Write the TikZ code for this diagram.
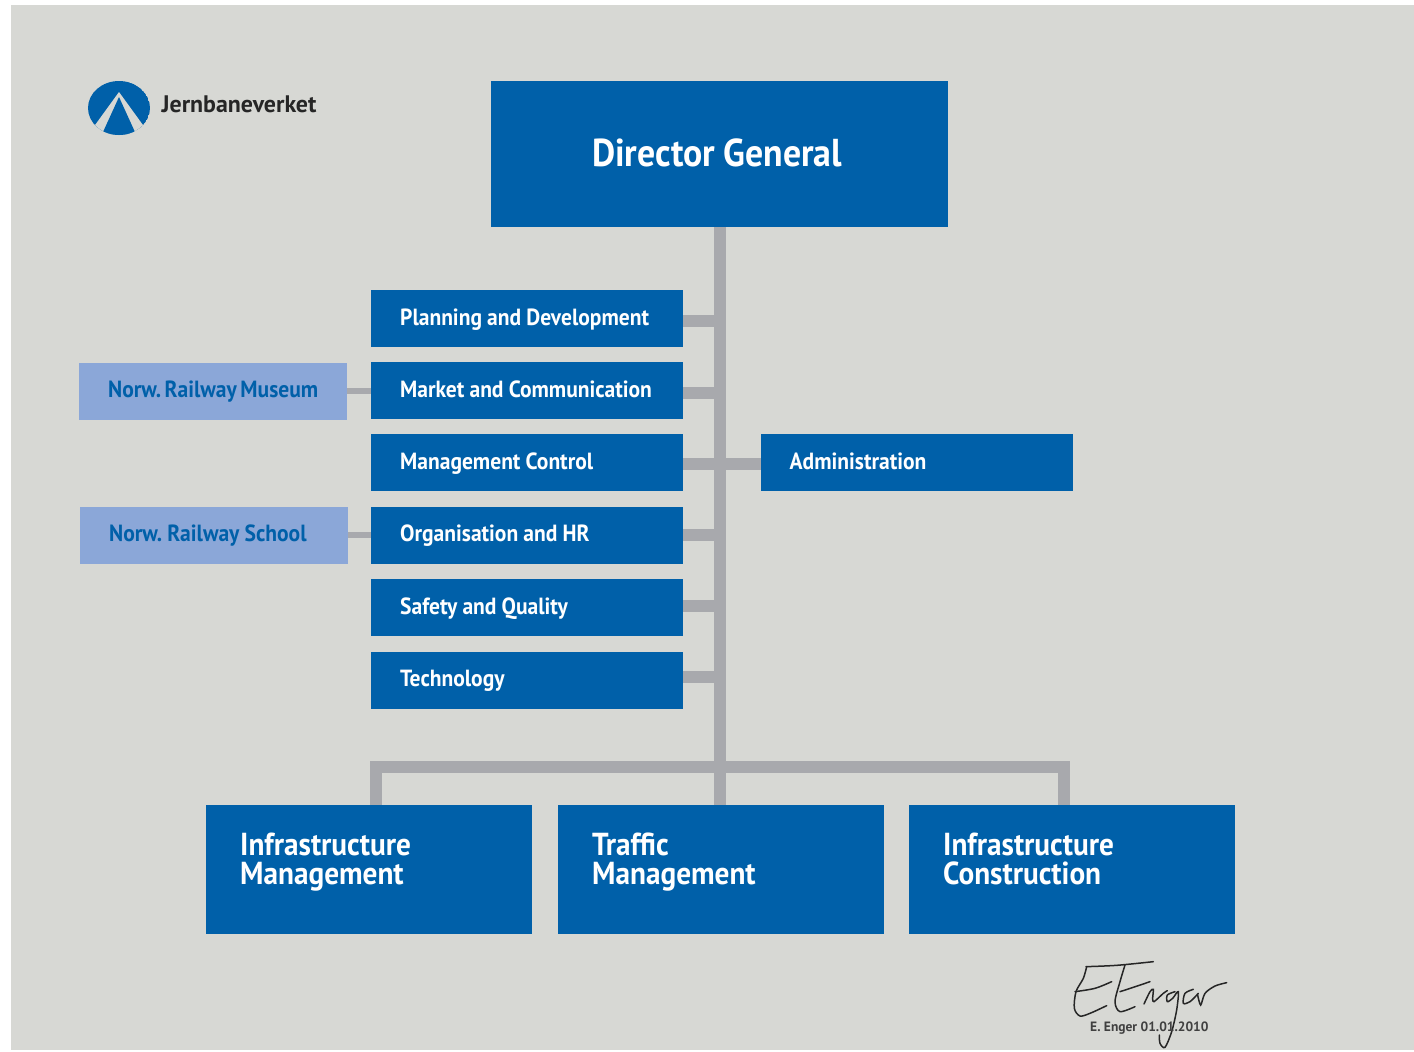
\documentclass[tikz,border=0pt]{standalone}
\usepackage{fontspec}
\setmainfont[FakeStretch=0.92,WordSpace=0.95]{PT Sans}
\newfontfamily\plainfont{PT Sans}
\definecolor{jbvblue}{HTML}{0060A9}
\definecolor{jbvlight}{HTML}{8BA7D8}
\definecolor{jbvback}{HTML}{D7D8D4}
\definecolor{jbvline}{HTML}{A8A9AD}
\tikzset{
	unit/.style = {fill = jbvblue, text = white, anchor = north west, inner ysep = 0pt, align = flush left},
	deptbox/.style = {unit, inner xsep = 29pt, text width = 254pt, minimum height = 57pt, text height = 18.5pt, text depth = 5pt, font = \fontsize{23.4}{26}\selectfont\bfseries},
	sidebox/.style = {deptbox, fill = jbvlight, text = jbvblue, text width = 210pt},
	linebox/.style = {unit, inner xsep = 34pt, text width = 258pt, minimum height = 129pt, text depth = 50pt, font = \fontsize{31.8}{28.5}\selectfont\bfseries},
	topbox/.style = {fill = jbvblue, text = white, anchor = north west, inner sep = 0pt, minimum width = 457pt, minimum height = 146pt, text depth = 4pt, font = \fontsize{38.9}{40}\selectfont\bfseries},
	conn/.style = {draw = jbvline, line width = 12pt},
	thinconn/.style = {draw = jbvline, line width = 6pt},
	sign/.style = {draw = black!85, line width = 1.5pt, smooth, line cap = round}
}
\begin{document}
\begin{tikzpicture}[x = 1pt, y = -1pt]
	\useasboundingbox (0,0) rectangle (1414,1052);
	\fill[white] (0,0) rectangle (1414,1052);
	\fill[jbvback] (11,5) rectangle (1414,1050);
	% logo
	\begin{scope}
		\clip (119,108) ellipse (31 and 27);
		\fill[jbvblue] (119,108) ellipse (31 and 27);
		\fill[jbvback] (119,92) -- (82,143) -- (156,143) -- cycle;
		\fill[jbvblue] (119,97) -- (98,143) -- (140,143) -- cycle;
	\end{scope}
	\node[anchor = west, inner sep = 0pt, text = black!85, font = \plainfont\fontsize{23.9}{24}\selectfont\bfseries] (brand) at (161.5,104) {Jernbaneverket};
	% boxes
	\node[topbox] (director) at (491,81) {Director General\hspace*{5pt}};
	\node[deptbox] (planning) at (371,290) {Planning~and~Development};
	\node[deptbox] (market) at (371,362) {Market~and~Communication};
	\node[deptbox] (control) at (371,434) {Management Control};
	\node[deptbox] (hr) at (371,506.5) {Organisation and HR};
	\node[deptbox] (safety) at (371,579) {Safety and Quality};
	\node[deptbox] (technology) at (371,651.5) {Technology};
	\node[deptbox] (admin) at (760.5,434) {Administration};
	\node[sidebox] (museum) at (79,362.5) {Norw.~Railway~Museum};
	\node[sidebox] (school) at (80,506.5) {Norw.~Railway~School};
	\node[linebox] (infra) at (206,805) {Infrastructure\\Management};
	\node[linebox] (traffic) at (558,805) {Traffic\\Management};
	\node[linebox] (construction) at (909,805) {Infrastructure\\Construction};
	% lines
	\coordinate (busleft) at (376,767);
	\coordinate (busright) at (1064,767);
	\draw[conn] (director.south) -- (director.south |- traffic.north);
	\foreach \d/\y in {planning/321,market/392.7,control/463.7,hr/535,safety/606,technology/677.3}
		\draw[conn] (\d.east |- 0,\y) -- (director.south |- 0,\y);
	\draw[conn] (control.east |- 0,463.7) -- (admin.west |- 0,463.7);
	\draw[thinconn] (museum.east) -- (museum.east -| market.west);
	\draw[thinconn] (school.east) -- (school.east -| hr.west);
	\draw[conn] (busleft |- infra.north) -- (busleft) -- (busright) -- (busright |- construction.north);
	% signature
	\begin{scope}[shift = {(1050,950)}, x = .3333pt, y = -.3333pt]
		\draw[sign] plot coordinates {(108,50) (200,46) (310,35)};
		\draw[sign] plot coordinates {(110,50) (100,85) (78,125) (73,175) (90,198) (120,190) (170,167)};
		\draw[sign] plot coordinates {(75,125) (135,115) (185,95)};
		\draw[sign] plot coordinates {(225,45) (210,95) (195,155) (210,185) (255,170)};
		\draw[sign] plot coordinates {(210,125) (250,112) (300,95)};
	\end{scope}
	\begin{scope}[shift = {(1130,960)}, x = .3333pt, y = -.3333pt]
		\draw[sign] plot coordinates {(42,132) (60,95) (70,88) (68,115) (72,125) (100,100) (112,92)};
		\draw[sign] plot coordinates {(135,95) (112,105) (112,125) (128,115) (145,95) (140,150) (125,215) (105,262) (90,250) (88,225)};
		\draw[sign] plot coordinates {(190,88) (165,100) (160,130) (180,125) (205,100)};
		\draw[sign] plot coordinates {(203,105) (212,135) (225,100) (255,78) (290,68)};
	\end{scope}
	\node[anchor = west, inner sep = 0pt, text = black!75, font = \plainfont\fontsize{13.5}{14}\selectfont\bfseries] (signed) at (1090,1028) {E. Enger 01.01.2010};
\end{tikzpicture}
\end{document}
